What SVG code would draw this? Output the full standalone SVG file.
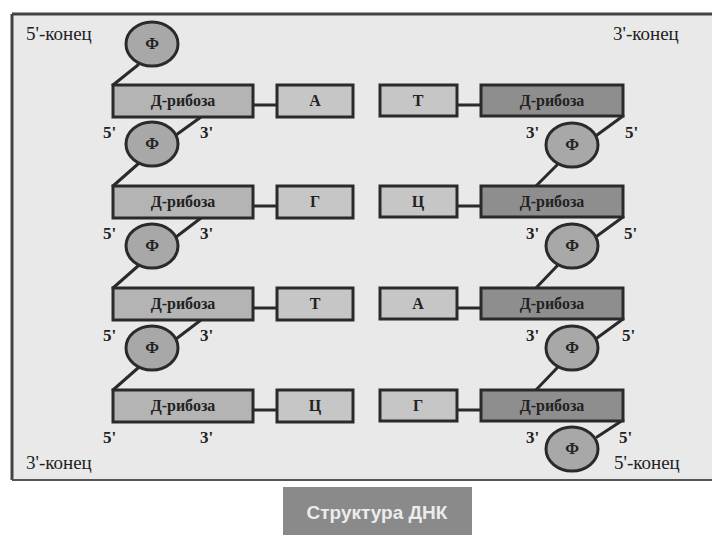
<svg xmlns="http://www.w3.org/2000/svg" width="720" height="540" viewBox="0 0 720 540">
<style>
.bg{fill:#ffffff}
.panel{fill:#e9e9e9}
.rib{fill:#b4b4b4;stroke:#2a2a2a;stroke-width:3}
.ribd{fill:#8e8e8e;stroke:#2a2a2a;stroke-width:3}
.base{fill:#c6c6c6;stroke:#2a2a2a;stroke-width:3}
.ph{fill:#a8a8a8;stroke:#2a2a2a;stroke-width:3}
.ln{stroke:#2a2a2a;stroke-width:3;fill:none;stroke-linecap:round}
.bt{font-family:"Liberation Serif","DejaVu Serif",serif;font-weight:bold;fill:#222;font-size:16px;text-anchor:middle}
.pr{font-family:"Liberation Serif","DejaVu Serif",serif;font-weight:bold;fill:#222;font-size:17px}
.end{font-family:"Liberation Serif","DejaVu Serif",serif;fill:#222;font-size:19px}
</style>
<rect class="bg" x="0" y="0" width="720" height="540"/>
<rect class="panel" x="12" y="14" width="700" height="466"/>
<line x1="12" y1="14" x2="712" y2="14" stroke="#444" stroke-width="3"/>
<line x1="12" y1="14" x2="12" y2="480" stroke="#444" stroke-width="3"/>
<line x1="12" y1="480" x2="712" y2="480" stroke="#555" stroke-width="2"/>

<g id="connectors">
  <line class="ln" x1="138" y1="65" x2="113" y2="85"/>
  <line class="ln" x1="201" y1="117" x2="176" y2="135"/>
  <line class="ln" x1="138" y1="164" x2="113" y2="186"/>
  <line class="ln" x1="201" y1="218" x2="176" y2="237"/>
  <line class="ln" x1="138" y1="266" x2="113" y2="288"/>
  <line class="ln" x1="201" y1="320" x2="176" y2="339"/>
  <line class="ln" x1="138" y1="368" x2="113" y2="390"/>
  <line class="ln" x1="253" y1="105" x2="277" y2="105"/>
  <line class="ln" x1="253" y1="206" x2="277" y2="206"/>
  <line class="ln" x1="253" y1="308" x2="277" y2="308"/>
  <line class="ln" x1="253" y1="410" x2="277" y2="410"/>
  <line class="ln" x1="457" y1="105" x2="481" y2="105"/>
  <line class="ln" x1="457" y1="206" x2="481" y2="206"/>
  <line class="ln" x1="457" y1="308" x2="481" y2="308"/>
  <line class="ln" x1="457" y1="410" x2="481" y2="410"/>
  <line class="ln" x1="623" y1="116" x2="597" y2="135"/>
  <line class="ln" x1="557" y1="165" x2="536" y2="186"/>
  <line class="ln" x1="623" y1="217" x2="597" y2="236"/>
  <line class="ln" x1="557" y1="266" x2="536" y2="288"/>
  <line class="ln" x1="623" y1="319" x2="597" y2="338"/>
  <line class="ln" x1="557" y1="368" x2="536" y2="390"/>
  <line class="ln" x1="623" y1="420" x2="597" y2="437"/>
</g>

<g id="phL1"><ellipse class="ph" cx="152" cy="44" rx="26" ry="22"/><text class="bt" x="152" y="49">Ф</text></g>
<g id="phL2"><ellipse class="ph" cx="152" cy="144" rx="26" ry="22"/><text class="bt" x="152" y="149">Ф</text></g>
<g id="phL3"><ellipse class="ph" cx="152" cy="246" rx="26" ry="22"/><text class="bt" x="152" y="251">Ф</text></g>
<g id="phL4"><ellipse class="ph" cx="152" cy="348" rx="26" ry="22"/><text class="bt" x="152" y="353">Ф</text></g>

<g id="phR1"><ellipse class="ph" cx="572" cy="145" rx="26" ry="22"/><text class="bt" x="572" y="150">Ф</text></g>
<g id="phR2"><ellipse class="ph" cx="572" cy="246" rx="26" ry="22"/><text class="bt" x="572" y="251">Ф</text></g>
<g id="phR3"><ellipse class="ph" cx="572" cy="348" rx="26" ry="22"/><text class="bt" x="572" y="353">Ф</text></g>
<g id="phR4"><ellipse class="ph" cx="572" cy="449" rx="26" ry="22"/><text class="bt" x="572" y="454">Ф</text></g>

<g id="ribL1"><rect class="rib" x="113" y="85" width="140" height="32"/><text class="bt" x="183" y="106">Д-рибоза</text></g>
<g id="ribL2"><rect class="rib" x="113" y="186" width="140" height="32"/><text class="bt" x="183" y="207">Д-рибоза</text></g>
<g id="ribL3"><rect class="rib" x="113" y="288" width="140" height="32"/><text class="bt" x="183" y="309">Д-рибоза</text></g>
<g id="ribL4"><rect class="rib" x="113" y="390" width="140" height="32"/><text class="bt" x="183" y="411">Д-рибоза</text></g>

<g id="baseL1"><rect class="base" x="277" y="85" width="76" height="32"/><text class="bt" x="315" y="106" font-weight="normal">А</text></g>
<g id="baseL2"><rect class="base" x="277" y="186" width="76" height="32"/><text class="bt" x="315" y="207" font-weight="normal">Г</text></g>
<g id="baseL3"><rect class="base" x="277" y="288" width="76" height="32"/><text class="bt" x="315" y="309" font-weight="normal">Т</text></g>
<g id="baseL4"><rect class="base" x="277" y="390" width="76" height="32"/><text class="bt" x="315" y="411" font-weight="normal">Ц</text></g>

<g id="baseR1"><rect class="base" x="380" y="85" width="77" height="31"/><text class="bt" x="418" y="106" font-weight="normal">Т</text></g>
<g id="baseR2"><rect class="base" x="380" y="186" width="77" height="31"/><text class="bt" x="418" y="207" font-weight="normal">Ц</text></g>
<g id="baseR3"><rect class="base" x="380" y="288" width="77" height="31"/><text class="bt" x="418" y="309" font-weight="normal">А</text></g>
<g id="baseR4"><rect class="base" x="380" y="390" width="77" height="31"/><text class="bt" x="418" y="411" font-weight="normal">Г</text></g>

<g id="ribR1"><rect class="ribd" x="481" y="85" width="142" height="31"/><text class="bt" x="552" y="106">Д-рибоза</text></g>
<g id="ribR2"><rect class="ribd" x="481" y="186" width="142" height="31"/><text class="bt" x="552" y="207">Д-рибоза</text></g>
<g id="ribR3"><rect class="ribd" x="481" y="288" width="142" height="31"/><text class="bt" x="552" y="309">Д-рибоза</text></g>
<g id="ribR4"><rect class="ribd" x="481" y="390" width="142" height="31"/><text class="bt" x="552" y="411">Д-рибоза</text></g>

<g id="labelsL">
  <text class="pr" x="103" y="138">5'</text><text class="pr" x="200" y="138">3'</text>
  <text class="pr" x="103" y="239">5'</text><text class="pr" x="200" y="239">3'</text>
  <text class="pr" x="103" y="341">5'</text><text class="pr" x="200" y="341">3'</text>
  <text class="pr" x="103" y="443">5'</text><text class="pr" x="200" y="443">3'</text>
</g>
<g id="labelsR">
  <text class="pr" x="526" y="138">3'</text><text class="pr" x="625" y="138">5'</text>
  <text class="pr" x="526" y="239">3'</text><text class="pr" x="624" y="239">5'</text>
  <text class="pr" x="526" y="341">3'</text><text class="pr" x="622" y="341">5'</text>
  <text class="pr" x="526" y="443">3'</text><text class="pr" x="619" y="443">5'</text>
</g>

<g id="ends">
  <text class="end" x="26" y="40">5'-конец</text>
  <text class="end" x="613" y="40">3'-конец</text>
  <text class="end" x="26" y="469">3'-конец</text>
  <text class="end" x="614" y="469">5'-конец</text>
</g>

<g id="caption">
  <rect x="283" y="487" width="189" height="48" fill="#8a8a8a"/>
  <text x="377" y="519" text-anchor="middle" font-family="'Liberation Sans','DejaVu Sans',sans-serif" font-weight="bold" font-size="19" fill="#ececec">Структура ДНК</text>
</g>
</svg>
